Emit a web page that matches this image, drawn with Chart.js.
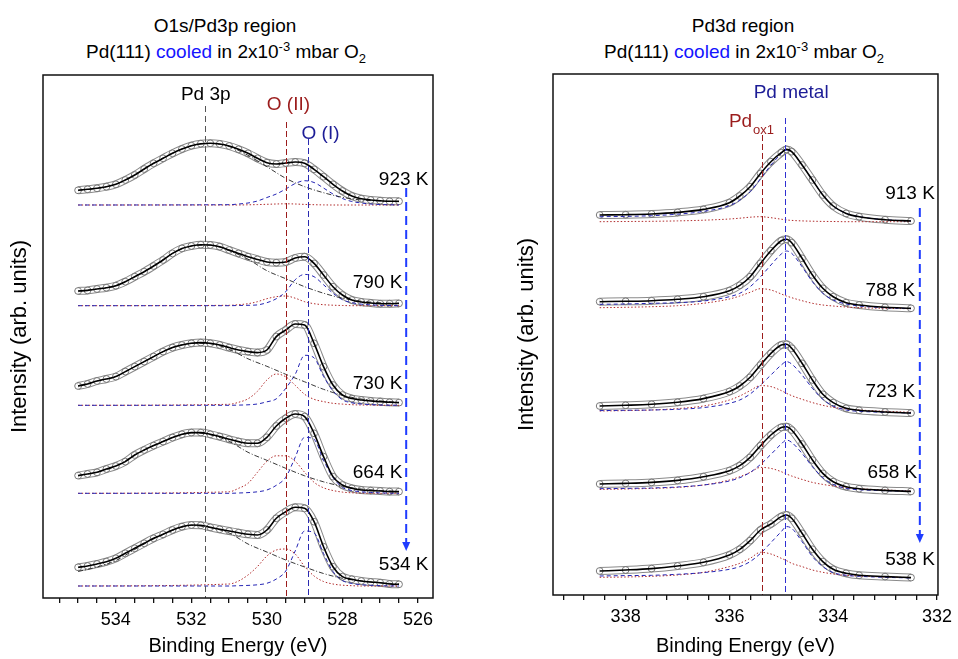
<!DOCTYPE html>
<html>
<head>
<meta charset="utf-8">
<script src="https://cdn.jsdelivr.net/npm/chart.js@4.4.0/dist/chart.umd.min.js"></script>
<style>
  body { margin: 0; width: 958px; height: 659px; position: relative; background: #fff; font-family: "Liberation Sans", Arial, sans-serif; overflow: hidden; }
  canvas { position: absolute; top: 0; }
  .title { position: absolute; width: 420px; text-align: center; font-size: 19px; line-height: 19px; color: #000; white-space: nowrap; }
  .blue { color: #1414ff; }
  sup, sub { font-size: 13px; line-height: 0; }
</style>
</head>
<body>
<div class="title" style="left:15px; top:16px;">O1s/Pd3p region</div>
<div class="title" style="left:16px; top:42px;">Pd(111) <span class="blue">cooled</span> in 2x10<sup>-3</sup> mbar O<sub>2</sub></div>
<div class="title" style="left:533px; top:16px;">Pd3d region</div>
<div class="title" style="left:534px; top:42px;">Pd(111) <span class="blue">cooled</span> in 2x10<sup>-3</sup> mbar O<sub>2</sub></div>
<canvas id="leftChart" width="479" height="659" style="left:0"></canvas>
<canvas id="rightChart" width="479" height="659" style="left:479px"></canvas>
<script>
// ---------- O1s / Pd3p panel (left) ----------
const tempsL = ['923 K', '790 K', '730 K', '664 K', '534 K'];
const offsetsL = [393, 292.3, 192.7, 104.7, 12];

// binding energy grid of measured points / fit envelope
const energyL = [535.0, 534.75, 534.5, 534.25, 534.0, 533.75, 533.5, 533.25, 533.0, 532.75, 532.5, 532.25,
  532.0, 531.75, 531.5, 531.25, 531.0, 530.75, 530.5, 530.25, 530.0, 529.75, 529.5, 529.25, 529.0,
  528.75, 528.5, 528.25, 528.0, 527.75, 527.5, 527.25, 527.0, 526.75, 526.5];
const envL923 = [14.7, 15.7, 16.7, 18.3, 20.7, 25, 30, 36, 41.7, 46.7, 51.7, 56, 59.3, 61.3, 61.7, 61, 59, 55.7, 51.7, 46.7, 42.3, 41, 42, 43, 41.7, 35.7, 28.3, 20.7, 14, 9, 6.3, 5, 4.3, 3.7, 3.7];
const envL790 = [14.7, 15.3, 16.7, 18, 20, 24, 29, 34, 39.7, 45.7, 52.3, 57.3, 59.7, 61, 60.7, 59, 55.7, 52.3, 49, 46.3, 43.7, 43, 43.7, 47.7, 49, 42.3, 30.7, 19, 10.7, 5.7, 3.7, 2.7, 2, 2, 2.3];
const envL730 = [19.3, 21.3, 24.3, 26.3, 28.7, 33.7, 38.7, 43.7, 48.7, 53.7, 57.7, 60.3, 62, 62.7, 62, 60.3, 57.7, 55.3, 53.7, 52.7, 55.3, 68.7, 75.3, 81.3, 80.3, 62, 38.7, 20.3, 10.3, 6.7, 5.3, 4.3, 3.7, 3, 2.7];
const envL664 = [17.7, 19.3, 21, 24.3, 27.3, 31.7, 38.3, 43.3, 47.7, 51.7, 55.7, 59, 60.7, 60.7, 59, 56.7, 54, 51.7, 50, 50, 56, 67.3, 75, 79.3, 76.7, 60, 36.7, 16.7, 8.3, 5, 3.3, 2.7, 2.3, 1.7, 1.7];
const envL534 = [18.7, 20, 22, 24.3, 27.7, 32.7, 37.7, 42.7, 47.7, 51.7, 56, 59.3, 61, 60.7, 58.7, 56.7, 55, 53.3, 51.7, 51, 56, 67.7, 74.3, 78.7, 77.7, 64.3, 39.3, 19.3, 9.3, 6.7, 5, 4, 3.3, 2, 1.7];

// Pd 3p + background
const bgEnergyL = [535, 534.5, 534, 533.5, 533, 532.5, 532, 531.5, 531, 530.5, 530, 529.5, 529, 528.5, 528, 527.5, 527, 526.5];
const bgL923 = [14.7, 16.7, 20.7, 30, 41.7, 51.7, 59.3, 61.5, 58.5, 49.7, 38.3, 26.7, 18.3, 12.3, 7.7, 5, 4, 3.3];
const bgL790 = [14.7, 16.7, 20, 29, 39.7, 52.3, 59.7, 60.5, 55, 46.5, 35, 27, 19, 12.5, 7.5, 4.5, 3, 2.3];
const bgL730 = [19.3, 24.3, 28.7, 38.7, 48.7, 57.7, 62, 61.5, 56, 46.5, 39, 31, 23.5, 16, 10, 6.3, 4.3, 3];
const bgL664 = [17.7, 21, 27.3, 38.3, 47.7, 55.7, 60.5, 58.5, 52, 41, 33, 25, 17.5, 11.5, 7, 4.3, 2.8, 1.8];
const bgL534 = [14.5, 19, 25.5, 36.5, 47, 55.5, 60.5, 58.3, 53, 42, 34, 26, 19, 12.5, 7.7, 5, 3.3, 2];

// O (I) and O (II) components
const compEnergyL = [531.0, 530.75, 530.5, 530.25, 530.0, 529.75, 529.5, 529.25, 529.0, 528.75, 528.5, 528.25, 528.0, 527.75, 527.5, 527.25, 527.0];
const o1L923 = [0.3, 1, 2, 4, 7.5, 11, 16, 21.5, 24.3, 22.5, 17, 11, 6.5, 3.5, 2, 1, 0.5];
const o1L790 = [0, 0.2, 0.4, 0.8, 3, 7, 14, 26, 31.3, 29, 21, 12.5, 6, 3, 1.6, 0.8, 0.4];
const o1L730 = [0, 0.2, 0.5, 1.3, 3.5, 6.5, 17, 31, 50, 47.5, 29, 14.5, 5.5, 2.5, 1.3, 0.7, 0.3];
const o1L664 = [0, 0.3, 0.7, 1.5, 3.3, 8, 16, 36, 56, 54, 33, 16, 6, 2.8, 1.5, 0.8, 0.4];
const o1L534 = [0, 0.3, 0.6, 1.2, 2.7, 7, 15, 35, 55, 53, 32.5, 14.5, 5.5, 2.5, 1.3, 0.7, 0.3];
const o2L923 = [0, 0, 0.2, 0.4, 0.7, 1, 1.2, 1, 0.6, 0.3, 0.1, 0, 0, 0, 0, 0, 0];
const o2L790 = [0.4, 1, 2, 4, 7, 9, 9.7, 7.5, 4, 2, 1, 0.5, 0.2, 0, 0, 0, 0];
const o2L730 = [1, 3, 6.5, 14, 25.3, 31.3, 28.5, 20, 11, 6, 3.7, 2, 1.2, 0.6, 0.3, 0.2, 0];
const o2L664 = [1.5, 5, 10, 21, 32, 37.5, 37.5, 32, 21, 11, 5.5, 2.8, 1.2, 0.5, 0.2, 0, 0];
const o2L534 = [2, 5, 11, 19.5, 30, 36, 37, 32, 19.5, 10, 4.5, 2, 0.8, 0.3, 0, 0, 0];

// ---------- Pd3d panel (right) ----------
const tempsR = ['913 K', '788 K', '723 K', '658 K', '538 K'];
const offsetsR = [373.3, 286, 181.7, 103.3, 16.7];
const energyR = [338.5, 338.0, 337.5, 337.0, 336.5, 336.0, 335.8, 335.6, 335.4, 335.2, 335.0, 334.9, 334.8,
  334.6, 334.4, 334.2, 334.0, 333.75, 333.5, 333.0, 332.5];
const envR913 = [6.7, 7, 7.7, 9.3, 12.3, 19, 25.7, 35, 48.3, 60, 69, 72.3, 70, 56.7, 41.7, 26.7, 15.7, 8.3, 5, 2, 0.7];
const envR788 = [7.3, 7.7, 8.3, 9.7, 12.3, 18.3, 23.7, 32.3, 45.7, 58.3, 68.3, 69.7, 66.3, 50.7, 34, 20.7, 12.3, 6.3, 4, 1.7, 0.7];
const envR723 = [7.3, 8, 9, 11, 14.7, 21.7, 27.3, 36, 48.3, 60, 68.3, 69, 65, 50, 33.3, 19, 10.7, 5, 3, 1.3, 0.3];
const envR658 = [7.7, 8.3, 9.3, 11.3, 15, 21, 26, 34.3, 46, 56.7, 64.3, 65, 61.7, 47.7, 31.7, 18.3, 10, 5, 3, 1.3, 0.3];
const envR538 = [7.3, 8.3, 9.7, 12.3, 16, 23.3, 29, 37.7, 48.3, 54.3, 61.7, 63.3, 60, 45, 29, 16.7, 9, 5, 3, 1.7, 0.7];
const metalR913 = [5, 5.3, 6, 7.5, 10.3, 16, 21.5, 30, 43, 56.5, 68, 71.7, 70, 56.7, 41.7, 26.7, 15.7, 8.3, 5, 2, 0.7];
const metalR788 = [4.7, 5, 5.7, 6.3, 8, 12.3, 15.7, 22.3, 32.3, 44, 55, 58, 55.7, 42.3, 27.3, 15.7, 9, 5, 3, 1.3, 0.3];
const metalR723 = [2.7, 3, 3.3, 4, 5.7, 10, 13.3, 19.3, 28.3, 38.3, 48.3, 51.7, 49.3, 38.3, 25, 14, 7.3, 3.3, 2, 1, 0.3];
const metalR658 = [3, 3.3, 3.7, 4.7, 6.7, 10.7, 14, 19.3, 27.3, 37.3, 47.7, 51.7, 49.3, 38.3, 25, 14, 7.3, 3.3, 2, 1, 0.3];
const metalR538 = [2.3, 2.7, 3, 4, 5.7, 9, 11.7, 16.7, 25, 35.7, 46.7, 51.7, 50, 36.7, 21.7, 11.7, 5.7, 3, 2, 1, 0.3];
const oxR913 = [0, 0.2, 0.4, 0.8, 1.5, 2.7, 3.5, 4.5, 5, 4, 2.5, 1.8, 1.3, 0.8, 0.5, 0.3, 0.2, 0, 0, 0, 0];
const oxR788 = [1.3, 1.7, 2.3, 3.3, 5.7, 10, 13, 16.7, 20.3, 19, 15, 13, 11.3, 8.3, 5.7, 4, 3, 2, 1.3, 0.7, 0.3];
const oxR723 = [2.3, 2.7, 3.3, 4.7, 7.3, 13.3, 17.3, 22.7, 27.7, 26.7, 22.7, 20, 17.7, 14, 10.7, 8, 6, 4.3, 3.3, 2, 1];
const oxR658 = [2.3, 2.7, 3.3, 4.3, 6.7, 11.7, 15, 19.3, 24.3, 23.3, 20, 17.7, 15.7, 12.3, 9.3, 7.3, 5.7, 4, 3, 1.7, 0.7];
const oxR538 = [1, 1.3, 2, 3.3, 6, 11.7, 15, 20, 26, 24.3, 20, 17.7, 15, 11.7, 8.3, 6, 4.3, 3, 2.3, 1.3, 0.7];

const FONT = '"Liberation Sans", Arial, sans-serif';
Chart.defaults.font.family = FONT;
Chart.defaults.font.size = 18;
Chart.defaults.color = '#000';

const RED = '#9b1c1c';
const NAVY = '#1c1c96';

function pts(xs, ys, off) {
  return xs.map((x, i) => ({ x: x, y: ys[i] + off }));
}

function line(data, color, width, dash, order) {
  return { data: data, borderColor: color, borderWidth: width, borderDash: dash, pointRadius: 0,
    fill: false, cubicInterpolationMode: 'monotone', order: order };
}

// measured points: drawn as a band of open circles under the fit
function measured(data) {
  return [
    line(data, '#8a8a8a', 8, [], 9),
    line(data, '#ffffff', 6, [], 8),
    { data: data, showLine: false, pointRadius: 3.4, pointBorderWidth: 1, pointBorderColor: '#7a7a7a',
      pointBackgroundColor: 'rgba(0,0,0,0)', order: 7 }
  ];
}

// draws frame, reference lines, labels and the temperature arrow
const decor = {
  id: 'decor',
  afterDatasetsDraw(chart, args, opts) {
    const { ctx, chartArea: a, scales: { x, y } } = chart;
    ctx.save();
    ctx.lineWidth = 1;
    opts.lines.forEach(l => {
      const px = Math.round(x.getPixelForValue(l.x)) + 0.5;
      ctx.beginPath();
      ctx.setLineDash(l.dash);
      ctx.strokeStyle = l.color;
      ctx.moveTo(px, y.getPixelForValue(l.from));
      ctx.lineTo(px, a.bottom);
      ctx.stroke();
    });

    // arrow
    const ar = opts.arrow;
    const ax = x.getPixelForValue(ar.x);
    const y1 = y.getPixelForValue(ar.from), y2 = y.getPixelForValue(ar.to);
    ctx.strokeStyle = ar.color;
    ctx.fillStyle = ar.color;
    ctx.lineWidth = 2;
    ctx.setLineDash([9, 5]);
    ctx.beginPath();
    ctx.moveTo(ax, y1);
    ctx.lineTo(ax, y2 - 8);
    ctx.stroke();
    ctx.setLineDash([]);
    ctx.beginPath();
    ctx.moveTo(ax - 4, y2 - 9);
    ctx.lineTo(ax + 4, y2 - 9);
    ctx.lineTo(ax, y2);
    ctx.closePath();
    ctx.fill();

    // text labels
    ctx.textBaseline = 'alphabetic';
    opts.labels.forEach(t => {
      ctx.font = '19px ' + FONT;
      ctx.fillStyle = t.color || '#000';
      ctx.textAlign = t.align || 'center';
      const px = x.getPixelForValue(t.x), py = y.getPixelForValue(t.y);
      ctx.fillText(t.text, px, py);
      if (t.sub) {
        const w = ctx.measureText(t.text).width;
        ctx.font = '13px ' + FONT;
        ctx.textAlign = 'left';
        ctx.fillText(t.sub, px + w + 1, py + 7);
      }
    });

    // frame
    ctx.strokeStyle = '#111';
    ctx.lineWidth = 1.5;
    ctx.strokeRect(a.left, a.top, a.right - a.left, a.bottom - a.top);
    ctx.restore();
  }
};

function makeChart(id, cfg) {
  return new Chart(document.getElementById(id), {
    type: 'line',
    data: { datasets: cfg.datasets },
    options: {
      responsive: false,
      animation: false,
      events: [],
      layout: { padding: { left: 0, top: cfg.top, right: cfg.right, bottom: 0 } },
      plugins: { legend: { display: false }, tooltip: { enabled: false }, decor: cfg.decor },
      scales: {
        x: {
          type: 'linear', reverse: true, min: cfg.xMin, max: cfg.xMax,
          border: { display: false },
          grid: { display: true, drawOnChartArea: false, drawTicks: true, tickLength: 5, color: '#111', lineWidth: 1.3 },
          ticks: {
            stepSize: cfg.step, autoSkip: false, maxRotation: 0, includeBounds: false, padding: 6,
            callback: v => (Math.abs(v / 2 - Math.round(v / 2)) < 1e-6 ? String(Math.round(v)) : '')
          },
          title: { display: true, text: 'Binding Energy (eV)', font: { size: 20 }, padding: { top: 0, bottom: 1 } },
          afterFit: s => { s.height = cfg.xHeight; }
        },
        y: {
          min: 0, max: cfg.yMax,
          border: { display: false },
          grid: { display: false },
          ticks: { display: false },
          title: { display: true, text: 'Intensity (arb. units)', font: { size: 22 }, padding: { top: cfg.yTitlePad, bottom: 0 } },
          afterFit: s => { s.width = cfg.yWidth; }
        }
      }
    },
    plugins: [decor]
  });
}

// left panel datasets
const envL = [envL923, envL790, envL730, envL664, envL534];
const bgL = [bgL923, bgL790, bgL730, bgL664, bgL534];
const o1L = [o1L923, o1L790, o1L730, o1L664, o1L534];
const o2L = [o2L923, o2L790, o2L730, o2L664, o2L534];
const setsL = [];
offsetsL.forEach((off, k) => {
  const env = pts(energyL, envL[k], off);
  const edge = v => ({ x: v, y: off });
  setsL.push(...measured(env));
  setsL.push(line([edge(535)].concat(pts(compEnergyL, o2L[k], off), [edge(526.5)]), '#b02a2a', 1, [1.5, 2], 5));
  setsL.push(line([edge(535)].concat(pts(compEnergyL, o1L[k], off), [edge(526.5)]), '#2424b4', 1, [4, 3], 4));
  setsL.push(line(pts(bgEnergyL, bgL[k], off), '#222', 0.9, [5, 2, 1, 2], 3));
  setsL.push(line(env, '#000', 1.6, [], 1));
});

makeChart('leftChart', {
  datasets: setsL, top: 75, right: 46, xMin: 525.6, xMax: 535.93, step: 0.5,
  xHeight: 61, yMax: 523, yWidth: 43, yTitlePad: 7,
  decor: {
    lines: [
      { x: 531.65, from: 492, color: '#555', dash: [6, 4] },
      { x: 529.49, from: 476, color: RED, dash: [6, 3] },
      { x: 528.91, from: 459, color: '#2a2ab0', dash: [6, 3] }
    ],
    labels: [
      { text: 'Pd 3p', x: 531.62, y: 498 },
      { text: 'O (II)', x: 529.43, y: 488, color: RED },
      { text: 'O (I)', x: 528.58, y: 459, color: NAVY },
      { text: tempsL[0], x: 525.72, y: 413, align: 'right' },
      { text: tempsL[1], x: 526.41, y: 310, align: 'right' },
      { text: tempsL[2], x: 526.41, y: 209, align: 'right' },
      { text: tempsL[3], x: 526.41, y: 120, align: 'right' },
      { text: tempsL[4], x: 525.72, y: 28, align: 'right' }
    ],
    arrow: { x: 526.31, from: 410, to: 47, color: '#1f3cff' }
  }
});

// right panel datasets
const envR = [envR913, envR788, envR723, envR658, envR538];
const metalR = [metalR913, metalR788, metalR723, metalR658, metalR538];
const oxR = [oxR913, oxR788, oxR723, oxR658, oxR538];
const setsR = [];
offsetsR.forEach((off, k) => {
  const env = pts(energyR, envR[k], off);
  setsR.push(...measured(env));
  setsR.push(line(pts(energyR, oxR[k], off), '#b02a2a', 1, [1.5, 2], 5));
  setsR.push(line(pts(energyR, metalR[k], off), '#2424b4', 1, [4, 3], 4));
  setsR.push(line(env, '#000', 1.6, [], 1));
});

makeChart('rightChart', {
  datasets: setsR, top: 74, right: 17, xMin: 331.98, xMax: 339.4, step: 0.4,
  xHeight: 64, yMax: 521, yWidth: 74, yTitlePad: 35,
  decor: {
    lines: [
      { x: 334.92, from: 477, color: '#3030d0', dash: [6, 3] },
      { x: 335.38, from: 460, color: RED, dash: [6, 3] }
    ],
    labels: [
      { text: 'Pd metal', x: 334.81, y: 497, color: NAVY },
      { text: 'Pd', x: 336.01, y: 468, color: RED, align: 'left', sub: 'ox1' },
      { text: tempsR[0], x: 332.04, y: 396, align: 'right' },
      { text: tempsR[1], x: 332.42, y: 299, align: 'right' },
      { text: tempsR[2], x: 332.42, y: 198, align: 'right' },
      { text: tempsR[3], x: 332.38, y: 117, align: 'right' },
      { text: tempsR[4], x: 332.04, y: 30, align: 'right' }
    ],
    arrow: { x: 332.33, from: 387, to: 52, color: '#1f3cff' }
  }
});
</script>
</body>
</html>
